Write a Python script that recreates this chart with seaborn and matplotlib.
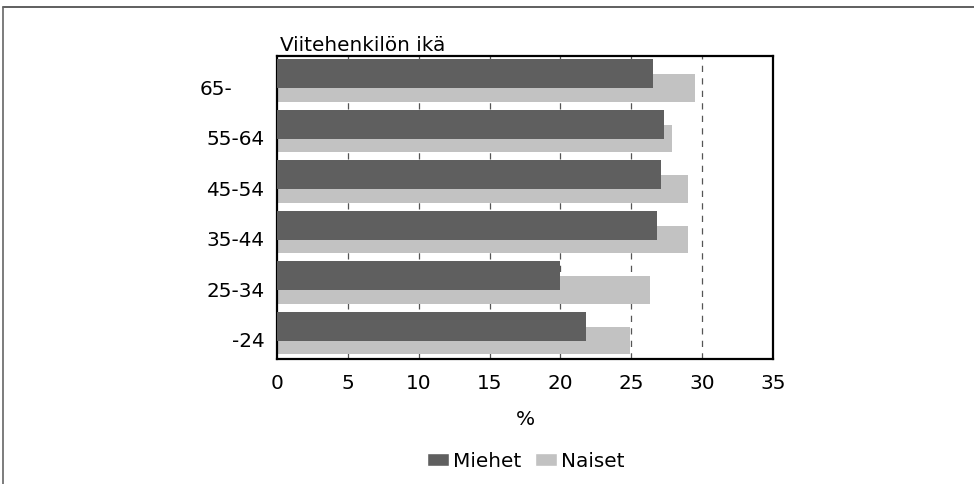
import numpy as np
import pandas as pd
import matplotlib
matplotlib.use("Agg")
import matplotlib.pyplot as plt
import matplotlib.transforms as mtransforms
from matplotlib.lines import Line2D
from matplotlib.patches import Patch
import seaborn as sns

# data (percent)
age_groups = ["65-", "55-64", "45-54", "35-44", "25-34", "-24"]
miehet = [26.5, 27.3, 27.1, 26.8, 20.0, 21.8]
naiset = [29.5, 27.9, 29.0, 29.0, 26.3, 24.9]
x_ticks = [0, 5, 10, 15, 20, 25, 30, 35]

DARK = "#5f5f5f"
LIGHT = "#c2c2c2"
FS = 14.4

sns.set_theme(style="white")
plt.rcParams["font.family"] = ["DejaVu Sans"]
plt.rcParams["text.color"] = "black"
plt.rcParams["axes.labelcolor"] = "black"
plt.rcParams["xtick.color"] = "black"
plt.rcParams["ytick.color"] = "black"

pos = np.arange(len(age_groups))
df_m = pd.DataFrame({"pos": pos - 0.15, "value": miehet})
df_n = pd.DataFrame({"pos": pos + 0.135, "value": naiset})

fig = plt.figure(figsize=(9.74, 4.85), dpi=100)
ax = fig.add_axes([0.2844, 0.2577, 0.5092, 0.6247])

# vertical dashed grid behind the bars
for xv in x_ticks[1:-1]:
    ax.axvline(xv, color="#555555", lw=0.9, ls=(0, (5, 5)), zorder=0)

# light bars first, dark bars overlap them from above
sns.barplot(data=df_n, x="value", y="pos", orient="y", native_scale=True,
            width=0.55, color=LIGHT, saturation=1, linewidth=0, ax=ax, zorder=2)
sns.barplot(data=df_m, x="value", y="pos", orient="y", native_scale=True,
            width=0.575, color=DARK, saturation=1, linewidth=0, ax=ax, zorder=3)

ax.set_xlim(0, 35)
ax.set_ylim(len(age_groups) - 0.5, -0.5)
ax.set_xticks(x_ticks)
ax.set_xticklabels([str(v) for v in x_ticks], fontsize=FS)
ax.set_yticks(pos + 0.1)
ax.set_yticklabels(age_groups, fontsize=FS)
ax.tick_params(axis="both", length=0)
ax.tick_params(axis="x", pad=10)
ax.tick_params(axis="y", pad=9)
ax.set_ylabel("")
ax.set_xlabel("%", fontsize=FS, labelpad=12)
for sp in ax.spines.values():
    sp.set_visible(True)
    sp.set_color("black")
    sp.set_linewidth(1.6)

# the top label sits further left in the original
lbl = ax.get_yticklabels()[0]
lbl.set_transform(lbl.get_transform() + mtransforms.ScaledTranslation(-32 / 100, 0, fig.dpi_scale_trans))

fig.text(280 / 974, 1 - 51 / 485, "Viitehenkilön ikä", fontsize=FS,
         ha="left", va="baseline")

handles = [Patch(facecolor=DARK, label="Miehet"), Patch(facecolor=LIGHT, label="Naiset")]
fig.legend(handles=handles, loc="center", bbox_to_anchor=(526 / 974, 1 - 462 / 485), ncol=2,
           frameon=False, fontsize=FS, handlelength=1.1, handleheight=0.65,
           handletextpad=0.2, columnspacing=0.7, borderpad=0)

# partial frame around the figure
fig.add_artist(Line2D([3 / 974, 1.0], [1 - 8 / 485, 1 - 8 / 485], transform=fig.transFigure,
                      color="#444444", lw=1.2))
fig.add_artist(Line2D([3 / 974, 3 / 974], [0.0, 1 - 8 / 485], transform=fig.transFigure,
                      color="#666666", lw=1.2))

fig.savefig("out.png", dpi=100)
